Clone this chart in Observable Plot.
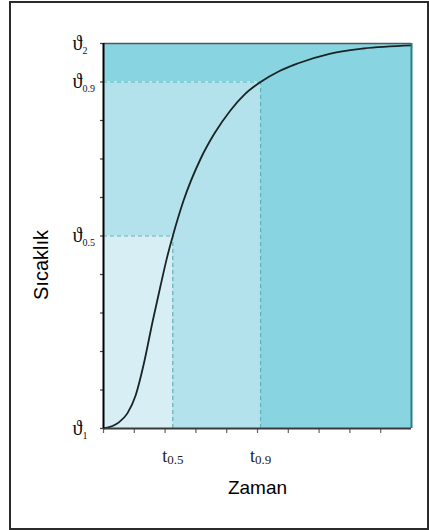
<!DOCTYPE html>
<html><head><meta charset="utf-8">
<script src="https://cdn.jsdelivr.net/npm/d3@7"></script>
<script src="https://cdn.jsdelivr.net/npm/@observablehq/plot@0.6"></script>
<style>
body{margin:0;background:#fff}
#wrap{position:relative;width:429px;height:530px}
#wrap svg{position:absolute;left:0;top:0}
#border{position:absolute;left:9px;top:1px;width:420px;height:529px;box-sizing:border-box;border:2px solid #2b2b2b;pointer-events:none}
</style>
</head><body><div id="wrap"><div id="border"></div></div>
<script>
// Characteristic times / levels
const tHalf = 2.25, tNinety = 5.1;
const thetaHalf = 0.5, thetaNinety = 0.9;
// Temperature response curve
const curveT = [0, 0.5, 0.78, 1.04, 1.3, 1.6, 1.85, 2.05, 2.25, 2.6, 3.15, 3.6, 4.12, 4.6, 5.1, 5.7, 6.3, 7.37, 8.44, 10];
const curveV = [0, 0.016, 0.04, 0.085, 0.165, 0.28, 0.37, 0.44, 0.5, 0.592, 0.70, 0.766, 0.826, 0.869, 0.9, 0.928, 0.948, 0.974, 0.987, 0.995];
// ticks
const xTicks = [0, 1, 2, 3, 4, 5, 6, 7, 8, 9];
const yTicks = [0, 0.1, 0.2, 0.3, 0.4, 0.5, 0.6, 0.7, 0.8, 0.9, 1];
const yLabelValues = [0, 0.5, 0.9, 1];
const yLabelSubs = ["1", "0.5", "0.9", "2"];
const xLabelValues = [tHalf, tNinety];
const xLabelSubs = ["0.5", "0.9"];
const xTitle = "Zaman", yTitle = "Sıcaklık";

const colDark = "#89d4e1", colMid = "#b3e1ec", colLight = "#d6eef4", colDash = "#5fb5b3";

const regions = [
  {x1: 0, x2: 10, y1: thetaNinety, y2: 1, fill: colDark},
  {x1: tNinety, x2: 10, y1: 0, y2: 1, fill: colDark},
  {x1: 0, x2: tNinety, y1: 0, y2: thetaNinety, fill: colMid},
  {x1: 0, x2: tHalf, y1: 0, y2: thetaHalf, fill: colLight}
];
const curve = curveT.map((t, i) => ({t, v: curveV[i]}));
const yLabels = yLabelValues.map((v, i) => ({v, s: "ϑ|" + yLabelSubs[i]}));
const xLabels = xLabelValues.map((t, i) => ({t, s: "t|" + xLabelSubs[i]}));

function subRender(mainSize, subSize, subDy) {
  return (index, scales, values, dims, ctx, next) => {
    const g = next(index, scales, values, dims, ctx);
    for (const t of g.querySelectorAll("text")) {
      const [a, b] = t.textContent.split("|");
      t.textContent = "";
      const ns = "http://www.w3.org/2000/svg";
      const t1 = document.createElementNS(ns, "tspan");
      t1.textContent = a; t1.setAttribute("font-size", mainSize);
      const t2 = document.createElementNS(ns, "tspan");
      t2.textContent = b; t2.setAttribute("font-size", subSize); t2.setAttribute("dy", subDy);
      t.append(t1, t2);
    }
    return g;
  };
}

const serif = "'Liberation Serif', 'DejaVu Serif', serif";
const sans = "'Liberation Sans', Arial, sans-serif";

const chart = Plot.plot({
  width: 429, height: 530,
  marginLeft: 103, marginRight: 18, marginTop: 43, marginBottom: 102,
  x: {domain: [0, 10]},
  y: {domain: [0, 1]},
  marks: [
    Plot.rect(regions, {x1: "x1", x2: "x2", y1: "y1", y2: "y2", fill: d => d.fill}),
    Plot.ruleY([thetaHalf], {x1: 0, x2: tHalf, stroke: colDash, strokeDasharray: "4,3", strokeWidth: 1.2}),
    Plot.ruleX([tHalf], {y1: 0, y2: thetaHalf, stroke: colDash, strokeDasharray: "4,3", strokeWidth: 1.2}),
    Plot.ruleY([thetaNinety], {x1: 0, x2: tNinety, stroke: colDash, strokeDasharray: "4,3", strokeWidth: 1.2}),
    Plot.ruleX([tNinety], {y1: 0, y2: thetaNinety, stroke: colDash, strokeDasharray: "4,3", strokeWidth: 1.2}),
    Plot.line(curve, {x: "t", y: "v", curve: "monotone-x", stroke: "#1a2424", strokeWidth: 1.8}),
    Plot.axisX({ticks: xTicks, tickSize: 5, tickFormat: () => "", stroke: "#666", strokeWidth: 1.2}),
    Plot.axisY({ticks: yTicks, tickSize: 3, tickFormat: () => "", stroke: "#444", strokeWidth: 1.2}),
    Plot.ruleY([1], {stroke: "#4a5a5a", strokeWidth: 1.5}),
    Plot.ruleX([10], {stroke: "#2d7e80", strokeWidth: 2}),
    Plot.ruleY([0], {stroke: "#3a3a3a", strokeWidth: 2}),
    Plot.ruleX([0], {stroke: "#000", strokeWidth: 2}),
    Plot.text(yLabels, {y: "v", text: "s", frameAnchor: "left", dx: -31, textAnchor: "start",
      fontFamily: serif, fontSize: 20, fill: "#111", render: subRender(20, 10, 4)}),
    Plot.text(xLabels, {x: "t", text: "s", frameAnchor: "bottom", dy: 33, textAnchor: "middle",
      fontFamily: serif, fontSize: 18, fill: "#222", render: subRender(18, 13, 2)}),
    Plot.text([xTitle], {frameAnchor: "bottom", dy: 65, textAnchor: "middle", fontFamily: sans, fontSize: 19, fill: "#000"}),
    Plot.text([yTitle], {frameAnchor: "left", dx: -62, dy: 29, textAnchor: "middle", rotate: -90,
      fontFamily: sans, fontSize: 20, fill: "#000"})
  ]
});
document.getElementById("wrap").prepend(chart);
</script>
</body></html>
